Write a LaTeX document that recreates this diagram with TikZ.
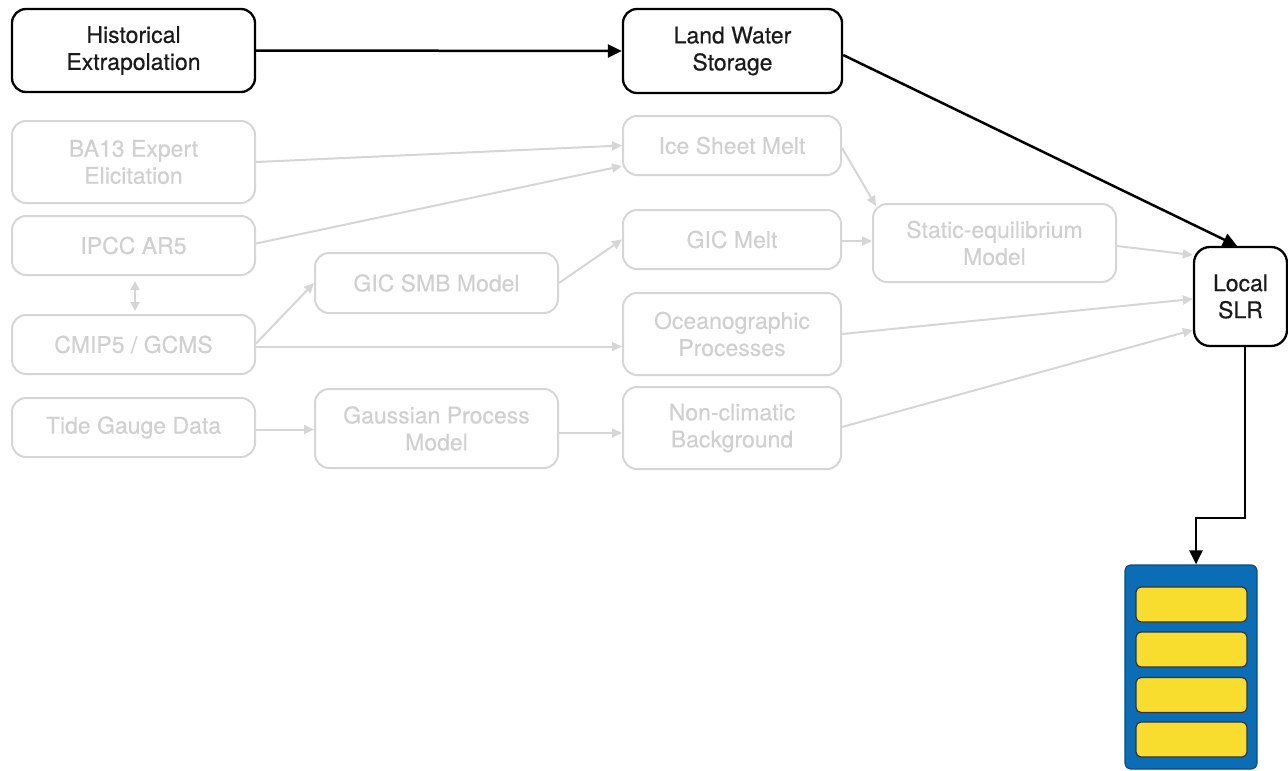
\documentclass[tikz,border=0pt]{standalone}
\usepackage{fontspec}
\setmainfont{TeX Gyre Heros}[BoldFont=TeX Gyre Heros, BoldFeatures={FakeBold=0.4}]
\usetikzlibrary{arrows.meta,calc}

\definecolor{fadeline}{HTML}{D6D6D6}
\definecolor{fadetext}{HTML}{D0D0D0}
\definecolor{livetext}{HTML}{1A1A1A}
\definecolor{stackblue}{HTML}{0B6DB5}
\definecolor{stackedge}{HTML}{0A4E80}
\definecolor{stackyellow}{HTML}{F8DD2E}

\begin{document}
\begin{tikzpicture}[x=1pt,y=-1pt,
  basebox/.style={rectangle, rounded corners=14pt, align=center, inner sep=0pt,
    font=\fontsize{23}{27}\selectfont\bfseries},
  livebox/.style={basebox, draw=black, text=livetext, line width=2.3pt},
  fadebox/.style={basebox, draw=fadeline, text=fadetext, line width=2pt},
  liveedge/.style={draw=black, line width=2.5pt, -{Triangle[length=14pt,width=13pt]}},
  fadeedge/.style={draw=fadeline, line width=2pt, -{Triangle[length=10pt,width=9pt]}},
  fadeboth/.style={draw=fadeline, line width=2pt, {Triangle[length=9pt,width=9pt]}-{Triangle[length=9pt,width=9pt]}},
  slot/.style={rectangle, rounded corners=5pt, draw=black!80, line width=1.2pt,
    fill=stackyellow, minimum width=111pt, minimum height=35pt, inner sep=0pt}
]
\useasboundingbox (0,0) rectangle (1288,771);

% left column: data sources
\node[livebox, minimum width=243pt, minimum height=83pt] (hist) at (133.5,50.5) {Historical\\Extrapolation};
\node[fadebox, minimum width=243pt, minimum height=82pt] (ba13) at (133.5,162) {BA13 Expert\\Elicitation};
\node[fadebox, minimum width=243pt, minimum height=59pt] (ipcc) at (133.5,245.5) {IPCC AR5};
\node[fadebox, minimum width=243pt, minimum height=59pt] (cmip) at (133.5,344.5) {CMIP5 / GCMS};
\node[fadebox, minimum width=243pt, minimum height=59pt] (tide) at (133.5,427.5) {Tide Gauge Data};

% second column: models
\node[fadebox, minimum width=243pt, minimum height=60pt] (gicsmb) at (436.5,283) {GIC SMB Model};
\node[fadebox, minimum width=243pt, minimum height=79pt] (gauss) at (436.5,428.5) {Gaussian Process\\Model};

% third column: contributions
\node[livebox, minimum width=219pt, minimum height=84pt] (lws) at (732.5,51) {Land Water\\Storage};
\node[fadebox, minimum width=218pt, minimum height=59pt] (ice) at (732,145.5) {Ice Sheet Melt};
\node[fadebox, minimum width=218pt, minimum height=59pt] (gicmelt) at (732,239.5) {GIC Melt};
\node[fadebox, minimum width=218pt, minimum height=82pt] (ocean) at (732,334) {Oceanographic\\Processes};
\node[fadebox, minimum width=218pt, minimum height=82pt] (nonclim) at (732,428) {Non-climatic\\Background};

% fourth column
\node[fadebox, minimum width=243pt, minimum height=78pt] (static) at (994.5,243) {Static-equilibrium\\Model};

% output
\node[livebox, rounded corners=16pt, minimum width=93pt, minimum height=99pt] (slr) at (1240.5,296.5) {Local\\SLR};

% stacked result
\node[rectangle, rounded corners=6pt, draw=stackedge, line width=1.2pt, fill=stackblue,
  minimum width=132pt, minimum height=204pt, inner sep=0pt] (stack) at (1191,667) {};
\node[slot] (slotA) at (1191.5,604.5) {};
\node[slot] (slotB) at (1191.5,649.5) {};
\node[slot] (slotC) at (1191.5,695) {};
\node[slot] (slotD) at (1191.5,739.5) {};

% active connectors
\draw[liveedge] (hist.east) -- (lws.west);
\draw[liveedge] ([yshift=-4pt]lws.east) -- ([xshift=-3.5pt]slr.north);
\coordinate (turn) at (0,518);
\draw[liveedge] ([xshift=4.5pt]slr.south) -- ([xshift=4.5pt]slr.south |- turn)
  -| ([xshift=5pt]stack.north);

% faded connectors
\draw[fadeedge] (ba13.east) -- (ice.west);
\draw[fadeedge] ([yshift=2pt]ipcc.east) -- ([yshift=-20.5pt]ice.west);
\draw[fadeboth] ([xshift=1.5pt,yshift=-5pt]ipcc.south) -- ([xshift=1.5pt,yshift=3pt]cmip.north);
\draw[fadeedge] ([yshift=1pt]cmip.east) -- (gicsmb.west);
\draw[fadeedge] ([yshift=-2pt]cmip.east) -- ([yshift=-2pt]cmip.east -| ocean.west);
\draw[fadeedge] (gicsmb.east) -- (gicmelt.west);
\draw[fadeedge] ([yshift=-2pt]tide.east) -- ([yshift=-2pt]tide.east -| gauss.west);
\draw[fadeedge] ([yshift=-4.5pt]gauss.east) -- ([yshift=-4.5pt]gauss.east -| nonclim.west);
\draw[fadeedge] ([yshift=-2.5pt]ice.east) -- ([xshift=4pt,yshift=-3pt]static.north west);
\draw[fadeedge] ([yshift=-1.5pt]gicmelt.east) -- ([yshift=-1.5pt]gicmelt.east -| static.west);
\draw[fadeedge] ([yshift=-3pt]static.east) -- ([yshift=41.5pt]slr.west);
\draw[fadeedge] (ocean.east) -- ([yshift=-2.5pt]slr.west);
\draw[fadeedge] ([yshift=1pt]nonclim.east) -- ([yshift=-33.5pt]slr.west);
\end{tikzpicture}
\end{document}
